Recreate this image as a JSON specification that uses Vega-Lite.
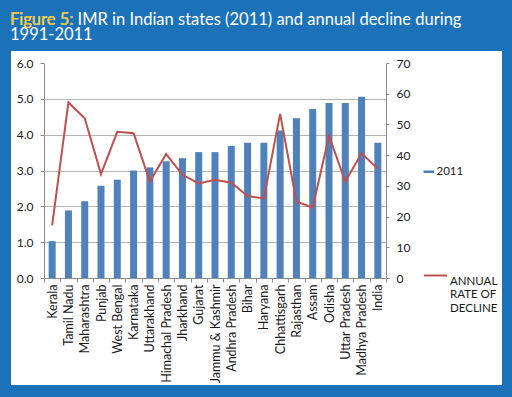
{
  "$schema": "https://vega.github.io/schema/vega-lite/v6.json",
  "width": 491,
  "height": 334,
  "autosize": {"type": "none"},
  "padding": {"left": 11, "top": 51, "right": 10, "bottom": 12},
  "background": "#1b72b9",
  "title": {
    "text": ["Figure 5: IMR in Indian states (2011) and annual decline during", "1991-2011"],
    "subtitle": "Figure 5:",
    "color": "#ffffff",
    "subtitleColor": "#f9c31b",
    "anchor": "start",
    "frame": "group",
    "font": "Lato",
    "subtitleFont": "Lato",
    "fontSize": 16.5,
    "subtitleFontSize": 16.5,
    "fontWeight": "normal",
    "subtitleFontWeight": "normal",
    "lineHeight": 15,
    "subtitleLineHeight": 15,
    "subtitlePadding": -32,
    "offset": 7,
    "dx": -1
  },
  "data": {"name": "states"},
  "datasets": {
    "states": [
      {"state": "Kerala", "imr": 12, "decline": 1.47},
      {"state": "Tamil Nadu", "imr": 22, "decline": 4.9},
      {"state": "Maharashtra", "imr": 25, "decline": 4.46},
      {"state": "Punjab", "imr": 30, "decline": 2.9},
      {"state": "West Bengal", "imr": 32, "decline": 4.08},
      {"state": "Karnataka", "imr": 35, "decline": 4.04},
      {"state": "Uttarakhand", "imr": 36, "decline": 2.69},
      {"state": "Himachal Pradesh", "imr": 38, "decline": 3.46},
      {"state": "Jharkhand", "imr": 39, "decline": 2.88},
      {"state": "Gujarat", "imr": 41, "decline": 2.64},
      {"state": "Jammu & Kashmir", "imr": 41, "decline": 2.74},
      {"state": "Andhra Pradesh", "imr": 43, "decline": 2.66},
      {"state": "Bihar", "imr": 44, "decline": 2.29},
      {"state": "Haryana", "imr": 44, "decline": 2.22},
      {"state": "Chhattisgarh", "imr": 48, "decline": 4.58},
      {"state": "Rajasthan", "imr": 52, "decline": 2.13},
      {"state": "Assam", "imr": 55, "decline": 1.97},
      {"state": "Odisha", "imr": 57, "decline": 3.97},
      {"state": "Uttar Pradesh", "imr": 57, "decline": 2.69},
      {"state": "Madhya Pradesh", "imr": 59, "decline": 3.48},
      {"state": "India", "imr": 44, "decline": 3.05}
    ]
  },
  "config": {
    "view": {"fill": "#ffffff", "stroke": null},
    "axis": {
      "labelFont": "Lato",
      "labelFontSize": 12,
      "labelColor": "#1a1a1a",
      "domain": true,
      "domainColor": "#8c8c8c",
      "tickColor": "#8c8c8c",
      "tickSize": 4,
      "grid": false,
      "title": null
    },
    "legend": {
      "labelFont": "Lato",
      "labelFontSize": 11.5,
      "labelColor": "#1a1a1a",
      "orient": "none",
      "padding": 0,
      "title": null
    }
  },
  "resolve": {"scale": {"y": "independent", "color": "independent"}},
  "layer": [
    {
      "mark": {"type": "line", "opacity": 0},
      "encoding": {
        "x": {"field": "state", "type": "nominal"},
        "y": {"field": "decline", "type": "quantitative", "scale": {"domain": [-2.986, 6.335], "nice": false, "zero": false},
          "axis": {"orient": "left", "offset": -33, "values": [1, 2, 3, 4, 5], "labels": false, "domain": false, "ticks": true, "tickSize": -342, "tickColor": "#b4b4b4", "tickWidth": 1, "grid": false, "zindex": 0}}
      }
    },
    {
      "mark": {"type": "bar", "width": {"band": 0.43}, "color": "#4f81bd"},
      "encoding": {
        "x": {"field": "state", "type": "nominal",
          "scale": {"domain": ["Kerala", "Tamil Nadu", "Maharashtra", "Punjab", "West Bengal", "Karnataka", "Uttarakhand", "Himachal Pradesh", "Jharkhand", "Gujarat", "Jammu & Kashmir", "Andhra Pradesh", "Bihar", "Haryana", "Chhattisgarh", "Rajasthan", "Assam", "Odisha", "Uttar Pradesh", "Madhya Pradesh", "India"], "type": "band", "range": [33, 375], "paddingInner": 0, "paddingOuter": 0},
          "axis": {"orient": "bottom", "offset": -107, "labelAngle": -90, "labelAlign": "right", "labelBaseline": "middle", "labelPadding": 2, "labelFontSize": 12.5, "tickBand": "extent", "ticks": true, "labelOverlap": false}},
        "y": {"field": "imr", "type": "quantitative", "scale": {"domain": [0, 70], "range": [227, 12], "nice": false, "zero": false},
          "axis": {"orient": "right", "offset": -116, "values": [0, 10, 20, 30, 40, 50, 60, 70], "labelPadding": 7, "tickSize": 3}},
        "y2": {"datum": 0},
        "color": {"datum": "2011", "type": "nominal", "scale": {"range": ["#4f81bd"]},
          "legend": {"legendX": 412, "legendY": 115, "symbolType": "M-1,-0.25H1V0.25H-1Z", "symbolSize": 110, "symbolStrokeWidth": 0, "labelOffset": 2}}
      }
    },
    {
      "mark": {"type": "line", "color": "#c0504d", "strokeWidth": 2},
      "encoding": {
        "x": {"field": "state", "type": "nominal"},
        "y": {"field": "decline", "type": "quantitative", "scale": {"domain": [0, 6], "range": [227, 12], "nice": false, "zero": false},
          "axis": {"orient": "left", "offset": -33, "values": [0, 1, 2, 3, 4, 5, 6], "format": ".1f", "labelPadding": 7}},
        "color": {"datum": "ANNUAL|RATE OF|DECLINE", "type": "nominal", "scale": {"range": ["#c0504d"]},
          "legend": {"legendX": 412, "legendY": 212, "symbolType": "stroke", "symbolSize": 529, "symbolStrokeWidth": 2, "labelOffset": 2, "labelExpr": "split(datum.label, '|')", "labelLimit": 200, "labelBaseline": "top"}}
      }
    }
  ]
}
